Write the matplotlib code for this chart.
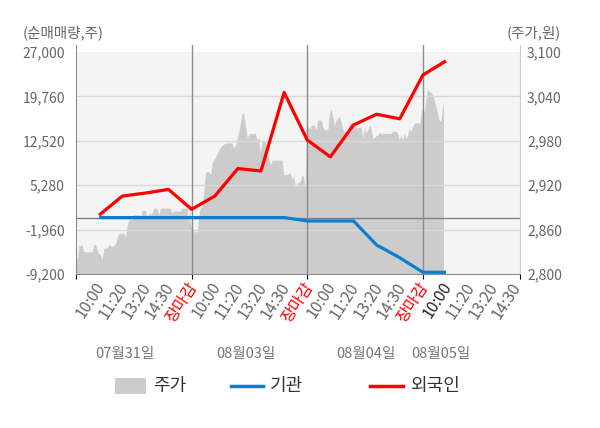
import matplotlib
matplotlib.use("Agg")
import matplotlib.pyplot as plt
from matplotlib.lines import Line2D
from matplotlib.patches import Rectangle
import matplotlib.transforms as mtransforms

plt.rcParams['font.family'] = ['Noto Sans CJK KR', 'DejaVu Sans']

# 순매매량 (기관 / 외국인), 16개 시점
flow_x = list(range(1, 17))
foreign = [400, 3500, 4000, 4600, 1350, 3500, 8000, 7600, 20400,
           12650, 9900, 15100, 16850, 16100, 23250, 25550]
inst = [0, 0, 0, 0, 0, 0, 0, 0, 0,
        -550, -550, -550, -4470, -6540, -8920, -8920]

# 주가 (분 단위 흐름, 같은 x 축 단위)
price_x = [0.0, 0.06, 0.13, 0.27, 0.34, 0.70, 0.78, 0.85, 0.92, 1.06, 1.13, 1.21, 1.35,
           1.42, 1.57, 1.71, 1.85, 2.07, 2.14, 2.21, 2.28, 2.43, 2.5, 2.72, 2.79, 2.86,
           3.0, 3.07, 3.15, 3.29, 3.36, 3.5, 3.58, 3.65, 4.08, 4.15, 4.22, 4.51, 4.58,
           4.8, 4.87, 4.91,
           4.96, 5.03, 5.14, 5.24, 5.32, 5.39, 5.46, 5.53, 5.6, 5.75, 5.82, 5.89, 6.03,
           6.18, 6.32, 6.47, 6.75, 6.82, 6.9, 7.04, 7.18, 7.25, 7.33, 7.4, 7.54, 7.76,
           7.83, 7.9, 7.97, 8.05, 8.19, 8.26, 8.33, 8.41, 8.48, 8.91, 8.98, 9.27, 9.34,
           9.41, 9.48, 9.56, 9.7, 9.77, 9.84, 9.91,
           9.96, 10.1, 10.17, 10.31, 10.39, 10.46, 10.6, 10.68, 10.75, 10.89, 10.96,
           11.03, 11.1, 11.18, 11.25, 11.32, 11.39, 11.47, 11.54, 11.61, 11.75, 11.82,
           12.04, 12.11, 12.33, 12.4, 12.47, 12.54, 12.61, 12.69, 12.76, 12.83, 12.9,
           13.05, 13.12, 13.19, 13.62, 13.69, 13.84, 13.91, 13.98, 14.05, 14.12, 14.2,
           14.27, 14.34, 14.41, 14.48, 14.56, 14.63, 14.88,
           14.94, 15.03, 15.06, 15.13, 15.2, 15.27, 15.34, 15.42, 15.49, 15.56, 15.63,
           15.7, 15.78, 15.85, 15.89]
price = [2826, 2819, 2839, 2839, 2830, 2830, 2840, 2840, 2830, 2826, 2820, 2835, 2835,
         2840, 2837, 2841, 2855, 2855, 2850, 2866, 2873, 2873, 2880, 2880, 2873, 2886,
         2886, 2877, 2882, 2882, 2889, 2889, 2880, 2889, 2889, 2882, 2885, 2885, 2889,
         2889, 2866, 2886,
         2866, 2859, 2857, 2857, 2882, 2891, 2891, 2913, 2938, 2938, 2934, 2950, 2958,
         2968, 2974, 2977, 2977, 2970, 2974, 2992, 3017, 3017, 3001, 2985, 2990, 2990,
         2981, 2985, 2963, 2979, 2979, 2965, 2958, 2947, 2954, 2954, 2934, 2936, 2927,
         2934, 2918, 2923, 2925, 2934, 2931, 2916,
         3004, 2995, 3001, 3001, 2995, 3008, 3008, 2998, 2995, 2995, 3017,
         3023, 3013, 3001, 3008, 3010, 3013, 3004, 2995, 2992, 2995, 3004,
         3004, 2997, 2999, 2983, 2999, 2990, 2995, 3001, 2997, 2983, 2985,
         2988, 2992, 2990, 2990, 2993, 2993, 2990, 2981, 2988, 2981, 2990,
         2983, 2988, 2997, 2992, 2999, 3004, 3004,
         3022, 3022, 3017, 3035, 3051, 3046, 3046, 3042, 3035, 3026, 3017,
         3008, 3006, 3026, 3033]

tick_labels = ["10:00", "11:20", "13:20", "14:30", "장마감"] * 3 + ["10:00", "11:20", "13:20", "14:30"]
day_labels = ["07월31일", "08월03일", "08월04일", "08월05일"]
day_label_x = [2.11, 7.33, 12.54, 15.77]
day_bounds = [5, 10, 15]

vol_ticks = [-9200, -1960, 5280, 12520, 19760, 27000]
price_ticks = [2800, 2860, 2920, 2980, 3040, 3100]

GRAY_TXT = '#666666'
BLUE = '#0a7fd0'
RED = '#ff0000'
AREA = '#cccccc'

fig = plt.figure(figsize=(6, 4.28), dpi=100)
ax2 = fig.add_axes([76 / 600, 154 / 428, 444 / 600, 229 / 428])
ax = ax2.twinx()
ax.set_zorder(ax2.get_zorder() + 1)
ax.patch.set_visible(False)

# 축 범위: 위쪽 7px 여유
extra = 7 / 222
ax.set_ylim(-9200, 27000 + 36200 * extra)
ax2.set_ylim(2800, 3100 + 300 * extra)
ax.set_xlim(0, 19.2)
ax2.set_xlim(0, 19.2)

# 배경과 주가 영역
ax2.set_facecolor('white')
ax2.axhspan(2800, 3100, color='#f4f4f4', zorder=0, lw=0)
ax2.fill_between(price_x, 2800, price, color=AREA, lw=0, zorder=1)

# 그리드, 기준선, 날짜 구분선
for v in vol_ticks[1:-1]:
    ax.axhline(v, color='#dadada', lw=1, zorder=1)
ax.axhline(0, color='#808080', lw=1, zorder=2)
for b in day_bounds:
    ax.axvline(b, color='#8c8c8c', lw=1, zorder=2)

ax.plot(flow_x, inst, color=BLUE, lw=2.3, zorder=4, solid_capstyle='butt')
ax.plot(flow_x, foreign, color=RED, lw=2.3, zorder=5, solid_capstyle='butt')

# 왼쪽 축(순매매량)은 ax 에, 오른쪽 축(주가)은 ax2 에
ax.yaxis.tick_left()
ax2.yaxis.tick_right()
ax.set_yticks(vol_ticks)
ax.set_yticklabels([f"{v:,}" for v in vol_ticks])
ax2.set_yticks(price_ticks)
ax2.set_yticklabels([f"{v:,}" for v in price_ticks])
ax.tick_params(axis='y', length=0, pad=8, labelsize=10, labelcolor=GRAY_TXT)
ax2.tick_params(axis='y', length=0, pad=5, labelsize=10, labelcolor=GRAY_TXT)

for a in (ax, ax2):
    a.spines['top'].set_visible(False)
ax.spines['left'].set_color('#8c8c8c')
ax.spines['bottom'].set_color('#8c8c8c')
ax.spines['right'].set_color('#cfcfcf')
ax2.spines['left'].set_visible(False)
ax2.spines['right'].set_visible(False)
ax2.spines['bottom'].set_visible(False)

# x 눈금: 날짜 경계에 짧은 눈금, 시각 라벨은 회전
ax2.set_xticks([])
ax.set_xticks([0] + day_bounds + [19.2])
ax.set_xticklabels([])
ax.tick_params(axis='x', length=4, color='#8c8c8c')

trans = mtransforms.blended_transform_factory(ax.transData, fig.transFigure)
for i, lab in enumerate(tick_labels):
    if lab == "장마감":
        c = RED
    elif i == 15:
        c = '#222222'
    else:
        c = GRAY_TXT
    ax.text(i + 1 + 0.1, 1 - 284 / 428, lab, transform=trans, rotation=57,
            rotation_mode='anchor', ha='right', va='center', fontsize=11.5, color=c)

for x, lab in zip(day_label_x, day_labels):
    ax.text(x, 1 - 354 / 428, lab, transform=trans, ha='center', va='center',
            fontsize=10.5, color='#777777')

fig.text(23 / 600, 1 - 33 / 428, "(순매매량,주)", ha='left', va='center', fontsize=10.5, color=GRAY_TXT)
fig.text(561 / 600, 1 - 33 / 428, "(주가,원)", ha='right', va='center', fontsize=10.5, color=GRAY_TXT)

# 범례
ly = 1 - 386 / 428
fig.add_artist(Rectangle((115 / 600, ly - 8 / 428), 31 / 600, 16 / 428,
                         transform=fig.transFigure, color=AREA, lw=0))
fig.text(153 / 600, ly, "주가", ha='left', va='center', fontsize=13, color='#333333')
fig.add_artist(Line2D([231 / 600, 263 / 600], [ly, ly], transform=fig.transFigure, color=BLUE, lw=2.5))
fig.text(270 / 600, ly, "기관", ha='left', va='center', fontsize=13, color='#333333')
fig.add_artist(Line2D([370 / 600, 403 / 600], [ly, ly], transform=fig.transFigure, color=RED, lw=2.5))
fig.text(410 / 600, ly, "외국인", ha='left', va='center', fontsize=13, color='#333333')

fig.savefig("out.png", dpi=100)
